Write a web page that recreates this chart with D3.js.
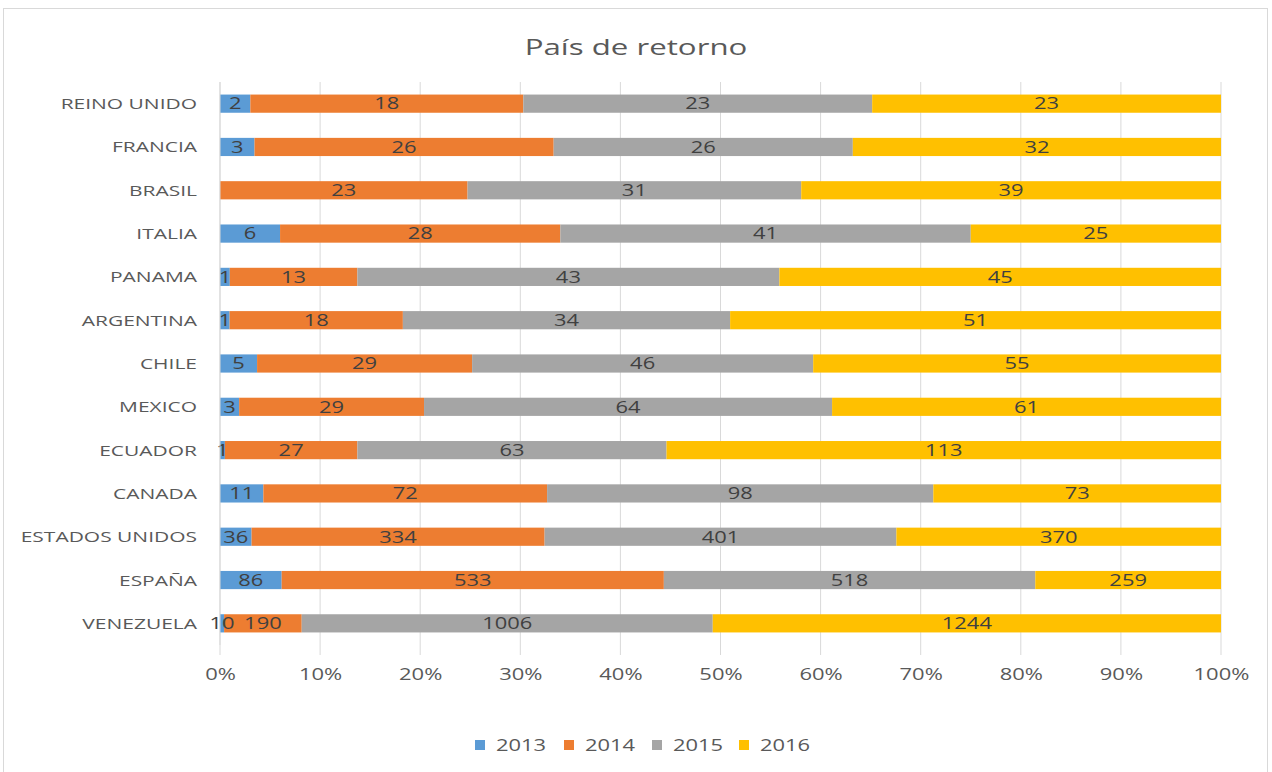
<!DOCTYPE html>
<html>
<head>
<meta charset="utf-8">
<script src="https://cdn.jsdelivr.net/npm/d3@7"></script>
<style>
  body { margin: 0; background: #fff; }
  text { font-family: "Open Sans", "Liberation Sans", sans-serif; }
</style>
</head>
<body>
<svg id="chart" width="1272" height="772"></svg>
<script>
// datos
const countries = ["REINO UNIDO", "FRANCIA", "BRASIL", "ITALIA", "PANAMA", "ARGENTINA", "CHILE",
    "MEXICO", "ECUADOR", "CANADA", "ESTADOS UNIDOS", "ESPAÑA", "VENEZUELA"];
const years = ["2013", "2014", "2015", "2016"];
const v2013 = [2, 3, 0, 6, 1, 1, 5, 3, 1, 11, 36, 86, 10];
const v2014 = [18, 26, 23, 28, 13, 18, 29, 29, 27, 72, 334, 533, 190];
const v2015 = [23, 26, 31, 41, 43, 34, 46, 64, 63, 98, 401, 518, 1006];
const v2016 = [23, 32, 39, 25, 45, 51, 55, 61, 113, 73, 370, 259, 1244];
const colors = ["#5B9BD5", "#ED7D31", "#A5A5A5", "#FFC000"];
const ticks = [0, 0.1, 0.2, 0.3, 0.4, 0.5, 0.6, 0.7, 0.8, 0.9, 1];

const stretchX = 1.37; // la imagen original esta estirada en horizontal

const rows = countries.map((c, i) => ({
    country: c, "2013": v2013[i], "2014": v2014[i], "2015": v2015[i], "2016": v2016[i]
}));

const svg = d3.select("#chart");

function stretch(sel, sx) {
    sel.each(function() {
        let t = d3.select(this);
        let x = +t.attr("x") || 0;
        let y = +t.attr("y") || 0;
        t.attr("x", 0).attr("y", 0)
            .attr("transform", `translate(${x}, ${y}) scale(${sx}, 1)`);
    });
}

// marco
svg.append("rect")
    .attr("x", 3.5).attr("y", 8.5)
    .attr("width", 1264).attr("height", 780)
    .attr("fill", "#fff")
    .attr("stroke", "#d9d9d9");

svg.append("text")
    .attr("x", 636).attr("y", 55)
    .attr("text-anchor", "middle")
    .style("font-size", "22px")
    .style("fill", "#595959")
    .text("País de retorno")
    .call(stretch, 1.42);

const xScale = d3.scaleLinear().domain([0, 1]).range([220, 1221]);
const yScale = d3.scaleBand().domain(countries).range([82, 645]).paddingInner(0.58).paddingOuter(0.29);

// lineas de cuadricula
svg.append("g")
    .selectAll("line")
    .data(ticks)
    .enter()
    .append("line")
    .attr("x1", d => xScale(d)).attr("x2", d => xScale(d))
    .attr("y1", 82).attr("y2", 655)
    .attr("stroke", "#d9d9d9")
    .attr("stroke-width", 1);

const xAxis = d3.axisBottom(xScale).tickValues(ticks).tickFormat(d3.format(".0%")).tickSize(0).tickPadding(14);
svg.append("g")
    .attr("class", "x-axis")
    .attr("transform", "translate(0, 655)")
    .call(xAxis)
    .call(g => g.select(".domain").remove())
    .selectAll("text")
    .style("font-size", "15.5px")
    .style("fill", "#595959")
    .call(stretch, 1.42);

const stack = d3.stack().keys(years).offset(d3.stackOffsetExpand);
const series = stack(rows);

const layers = svg.selectAll("g.layer")
    .data(series)
    .enter()
    .append("g")
    .attr("class", "layer")
    .attr("fill", (d, i) => colors[i]);

layers.selectAll("rect")
    .data(d => d)
    .enter()
    .append("rect")
    .attr("x", d => xScale(d[0]))
    .attr("y", d => yScale(d.data.country))
    .attr("width", d => xScale(d[1]) - xScale(d[0]))
    .attr("height", yScale.bandwidth());

// etiquetas de datos (encima de todas las barras)
const labels = svg.append("g").attr("class", "labels");
series.forEach(s => {
    labels.selectAll(`text.l${s.key}`)
        .data(s.filter(d => d.data[s.key] > 0))
        .enter()
        .append("text")
        .attr("class", `l${s.key}`)
        .attr("x", d => (xScale(d[0]) + xScale(d[1])) / 2)
        .attr("y", d => yScale(d.data.country) + yScale.bandwidth() / 2)
        .attr("dy", "0.36em")
        .attr("text-anchor", "middle")
        .style("font-size", "16px")
        .style("fill", "#404040")
        .text(d => d.data[s.key])
        .call(stretch, stretchX);
});

// eje de categorias
svg.append("line")
    .attr("x1", 220).attr("x2", 220)
    .attr("y1", 82).attr("y2", 645)
    .attr("stroke", "#d9d9d9");

svg.append("g")
    .selectAll("text")
    .data(countries)
    .enter()
    .append("text")
    .attr("x", 197)
    .attr("y", d => yScale(d) + yScale.bandwidth() / 2)
    .attr("dy", "0.36em")
    .attr("text-anchor", "end")
    .style("font-size", "15.3px")
    .style("fill", "#595959")
    .text(d => d)
    .call(stretch, stretchX);

// leyenda
const legendX = [475, 564, 652, 739];
const legend = svg.selectAll("g.legend")
    .data(years)
    .enter()
    .append("g")
    .attr("class", "legend")
    .attr("transform", (d, i) => `translate(${legendX[i]}, 745)`);

legend.append("rect")
    .attr("x", 0).attr("y", -5)
    .attr("width", 10).attr("height", 10)
    .attr("fill", (d, i) => colors[i]);

legend.append("text")
    .attr("x", 21).attr("dy", "0.36em")
    .style("font-size", "16px")
    .style("fill", "#595959")
    .text(d => d)
    .call(stretch, stretchX);
</script>
</body>
</html>
